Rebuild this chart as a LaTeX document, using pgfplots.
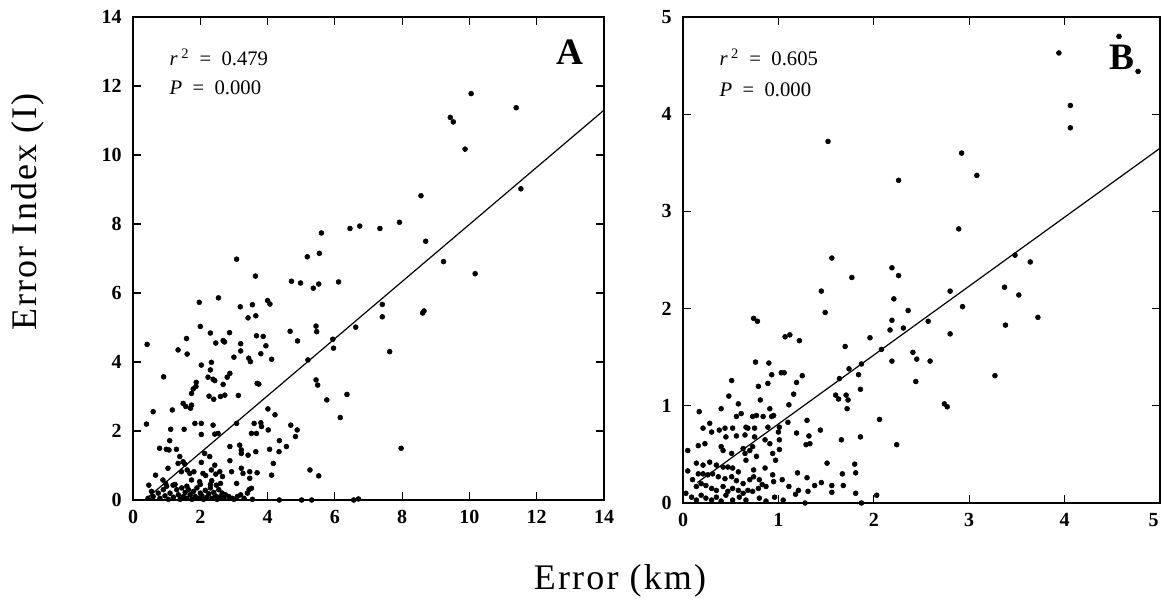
\documentclass[border=0pt]{standalone}
\usepackage{fontspec}
\setmainfont{Liberation Serif}
\newfontfamily\labelfont[LetterSpace=6]{Liberation Serif}
\usepackage{pgfplots}
\pgfplotsset{compat=1.18}

% shared look of both panels
\pgfplotsset{
  panel/.style={
    scale only axis,
    tick align=inside,
    major tick length=6pt,
    axis line style={line width=1.1pt},
    every tick/.style={black, line width=0.8pt},
    tick label style={font=\bfseries\fontsize{15}{15}\selectfont},
    /pgf/number format/assume math mode=true,
    yticklabel style={xshift=-5pt},
    xticklabel style={yshift=-4pt},
    clip=false,
  },
  dots/.style={only marks, mark=*, mark size=1.85pt, black},
  fit/.style={black, line width=0.9pt, no marks},
}

\begin{document}
\begin{tikzpicture}
\useasboundingbox (-99.75pt,-80.25pt) rectangle (771.75pt,375pt);

% ---------------- panel A ----------------
\begin{axis}[panel,
  at={(0pt,0pt)}, anchor=south west,
  width=353.25pt, height=362.25pt,
  xmin=0, xmax=14, ymin=0, ymax=14,
  xtick={0,2,...,14}, ytick={0,2,...,14},
]
\addplot[dots] table {
x y
10.05 11.78
11.39 11.37
9.43 11.09
9.52 10.96
9.87 10.17
11.53 9.02
8.56 8.82
7.92 8.05
7.34 7.87
6.74 7.94
6.45 7.87
5.60 7.74
5.54 7.15
5.18 7.05
8.70 7.50
9.23 6.91
10.17 6.56
3.08 6.98
3.64 6.49
4.71 6.34
4.98 6.29
6.11 6.32
5.36 6.14
5.52 6.26
2.54 5.86
7.41 5.67
7.41 5.31
8.61 5.42
8.65 5.48
6.62 5.01
7.63 4.30
6.36 3.06
6.16 2.39
7.97 1.50
5.94 4.66
5.96 4.40
6.56 0.00
6.70 0.03
4.35 0.00
5.01 0.00
5.31 0.00
1.97 5.73
3.19 5.60
3.55 5.66
4.00 5.78
4.07 5.68
3.42 5.28
3.65 5.34
2.00 5.03
2.30 4.84
2.87 4.85
1.59 4.68
0.42 4.51
1.34 4.35
1.61 4.23
2.46 4.55
2.68 4.62
2.72 4.58
3.20 4.53
3.20 4.32
3.67 4.76
3.87 4.74
3.95 4.47
3.80 4.24
3.00 4.14
3.44 4.11
3.49 4.01
4.12 4.08
4.67 4.89
4.89 4.61
5.44 5.04
5.46 4.88
5.20 4.06
5.44 3.48
5.49 3.33
5.76 2.90
2.03 3.91
2.33 3.99
2.30 3.77
2.23 3.56
2.38 3.50
2.43 3.46
2.88 3.67
2.80 3.56
0.91 3.57
2.68 3.35
1.88 3.41
1.87 3.29
1.79 3.22
1.74 3.09
2.26 3.01
2.40 2.92
2.60 3.00
2.73 3.04
3.13 3.03
3.69 3.38
3.74 3.36
1.49 2.80
1.57 2.71
1.74 2.75
1.71 2.66
1.17 2.61
0.60 2.56
0.40 2.20
1.12 2.05
1.52 2.05
1.84 2.22
2.03 2.22
2.03 1.90
2.38 2.17
2.53 1.93
2.43 1.91
3.08 2.22
3.60 2.22
3.80 2.24
3.82 2.13
3.52 1.93
3.67 1.93
4.01 2.64
4.22 2.47
4.02 2.03
4.69 2.17
4.88 2.03
4.83 1.84
4.35 1.72
4.34 1.40
4.56 1.55
4.06 1.47
1.09 1.72
0.79 1.50
0.99 1.47
1.07 1.45
1.29 1.47
3.17 1.59
3.22 1.45
3.22 1.35
2.88 1.55
3.42 1.30
3.65 1.40
2.88 1.14
4.17 1.06
1.39 1.26
1.49 1.11
1.54 1.04
2.13 1.35
2.28 1.26
2.03 1.09
2.43 1.01
2.93 0.82
3.22 0.92
3.27 0.77
3.47 0.82
3.69 0.79
4.12 0.72
5.26 0.87
5.52 0.70
0.67 0.72
1.04 0.92
1.34 1.06
1.44 0.82
1.61 0.87
1.69 0.77
1.81 0.82
2.08 0.77
2.16 0.71
2.33 0.87
2.46 0.75
2.58 0.82
2.66 0.68
3.08 0.48
3.47 0.63
3.52 0.34
0.47 0.43
0.89 0.58
0.97 0.48
1.19 0.43
1.74 0.58
1.98 0.53
2.34 0.56
2.48 0.43
2.60 0.48
0.45 0.05
0.60 0.10
0.75 0.20
0.80 0.05
0.90 0.30
0.95 0.12
1.05 0.02
1.10 0.20
1.20 0.08
1.30 0.30
1.35 0.15
1.40 0.02
1.45 0.35
1.50 0.10
1.55 0.22
1.60 0.05
1.65 0.30
1.70 0.15
1.75 0.02
1.80 0.25
1.85 0.10
1.90 0.35
1.95 0.05
2.00 0.20
2.05 0.12
2.10 0.02
2.15 0.28
2.20 0.08
2.25 0.18
2.30 0.35
2.35 0.05
2.40 0.22
2.45 0.12
2.50 0.02
2.55 0.30
2.60 0.10
2.65 0.20
2.70 0.05
2.75 0.15
2.85 0.10
2.95 0.05
3.00 0.02
3.10 0.10
3.20 0.15
3.30 0.05
3.40 0.20
3.45 0.30
3.55 0.02
1.25 0.45
1.60 0.40
2.00 0.45
2.30 0.45
0.55 0.25
1.00 0.40
};
\addplot[fit] coordinates {(0.35,0) (14,11.3)};
\node[anchor=west, font=\fontsize{15.5}{15.5}\selectfont] at (rel axis cs:0.068,0.917)
  {\textit{r}\,\textsuperscript{2}\ \ =\ \ 0.479};
\node[anchor=west, font=\fontsize{15.5}{15.5}\selectfont] at (rel axis cs:0.068,0.853)
  {\textit{P}\ \ =\ \ 0.000};
\node[font=\bfseries\fontsize{28}{28}\selectfont] at (rel axis cs:0.928,0.927) {A};
\end{axis}

% ---------------- panel B ----------------
\begin{axis}[panel,
  at={(412.5pt,-2.25pt)}, anchor=south west,
  width=357.75pt, height=364.5pt,
  xmin=0, xmax=5, ymin=0, ymax=5,
  xtick={0,1,...,5}, ytick={0,1,...,5},
  xticklabels={0,1,2,3,4,\makebox[0pt][r]{5\hspace{1pt}}},
]
\addplot[dots] table {
x y
4.57 4.80
3.94 4.63
4.77 4.44
4.06 4.09
4.06 3.86
1.52 3.72
2.92 3.60
3.08 3.37
2.26 3.32
2.89 2.82
1.56 2.52
2.19 2.42
2.26 2.34
1.77 2.32
3.48 2.55
3.64 2.48
3.37 2.22
3.52 2.14
3.72 1.91
3.38 1.83
3.27 1.31
2.80 2.18
2.93 2.02
2.80 1.74
2.74 1.02
2.77 0.99
1.45 2.18
1.49 1.96
2.21 2.10
2.36 1.98
2.19 1.88
2.17 1.78
2.31 1.80
2.57 1.87
0.74 1.90
0.78 1.87
1.07 1.71
1.12 1.73
1.22 1.67
0.76 1.45
0.90 1.44
0.93 1.32
1.03 1.34
1.06 1.34
0.51 1.26
1.25 1.31
0.79 1.20
0.89 1.23
1.19 1.24
0.48 1.10
1.16 1.12
0.81 1.06
1.11 1.01
1.70 1.61
1.96 1.70
2.08 1.58
1.64 1.28
1.74 1.38
1.84 1.32
1.87 1.43
1.60 1.11
1.63 1.07
1.71 1.11
1.73 1.06
1.72 0.97
1.86 1.17
2.41 1.55
2.45 1.48
2.19 1.46
2.59 1.46
2.44 1.25
2.06 0.86
2.24 0.60
1.86 0.68
1.66 0.65
1.44 0.75
1.32 0.69
1.30 0.85
1.19 0.72
1.29 0.60
1.33 0.61
1.10 0.83
1.01 0.78
1.00 0.73
0.91 0.97
0.95 0.90
1.01 0.65
1.01 0.55
0.94 0.51
0.97 0.44
1.51 0.41
1.80 0.40
1.81 0.31
1.67 0.30
1.68 0.18
1.81 0.10
1.56 0.18
1.56 0.11
1.45 0.21
1.38 0.18
1.30 0.26
1.31 0.12
1.21 0.13
1.18 0.09
1.20 0.31
1.11 0.17
1.04 0.24
0.94 0.29
0.95 0.22
0.86 0.36
0.74 0.34
0.74 0.27
0.83 0.19
0.79 0.15
0.70 0.24
2.03 0.08
1.87 0.00
1.28 0.00
0.05 0.54
0.05 0.33
0.17 0.94
0.16 0.59
0.23 0.61
0.21 0.77
0.28 0.82
0.30 0.73
0.40 0.97
0.58 1.02
0.56 0.89
0.61 0.92
0.38 0.75
0.44 0.77
0.52 0.77
0.45 0.68
0.56 0.69
0.65 0.70
0.66 0.78
0.68 0.77
0.75 0.77
0.73 0.89
0.77 0.90
0.84 0.89
0.89 0.78
0.93 0.89
0.75 0.68
0.86 0.65
0.91 0.61
0.40 0.58
0.42 0.54
0.51 0.51
0.63 0.56
0.70 0.54
0.73 0.58
0.65 0.51
0.66 0.44
0.77 0.48
0.14 0.41
0.21 0.39
0.28 0.42
0.35 0.39
0.42 0.37
0.47 0.37
0.52 0.36
0.58 0.32
0.16 0.30
0.21 0.30
0.26 0.29
0.31 0.30
0.37 0.27
0.44 0.25
0.51 0.27
0.10 0.24
0.14 0.17
0.19 0.20
0.24 0.18
0.30 0.15
0.35 0.13
0.42 0.17
0.47 0.12
0.52 0.15
0.58 0.13
0.63 0.10
0.68 0.13
0.73 0.12
0.56 0.23
0.63 0.20
0.80 0.24
0.87 0.17
0.03 0.10
0.09 0.06
0.14 0.03
0.19 0.08
0.24 0.05
0.30 0.03
0.35 0.06
0.40 0.02
0.45 0.08
0.52 0.03
0.59 0.06
0.66 0.03
0.80 0.05
0.87 0.02
0.96 0.06
1.05 0.03
};
\addplot[fit] coordinates {(0.15,0.21) (5,3.65)};
\node[anchor=west, font=\fontsize{15.5}{15.5}\selectfont] at (rel axis cs:0.067,0.916)
  {\textit{r}\,\textsuperscript{2}\ \ =\ \ 0.605};
\node[anchor=west, font=\fontsize{15.5}{15.5}\selectfont] at (rel axis cs:0.067,0.850)
  {\textit{P}\ \ =\ \ 0.000};
\node[font=\bfseries\fontsize{28}{28}\selectfont] at (rel axis cs:0.92,0.918) {B};
\end{axis}

% shared axis titles
\node[rotate=90, font=\labelfont\fontsize{27}{27}\selectfont] at (-79pt,216pt) {Error Index (I)};
\node[font=\labelfont\fontsize{27}{27}\selectfont] at (365.25pt,-61pt) {Error (km)};
\end{tikzpicture}
\end{document}
